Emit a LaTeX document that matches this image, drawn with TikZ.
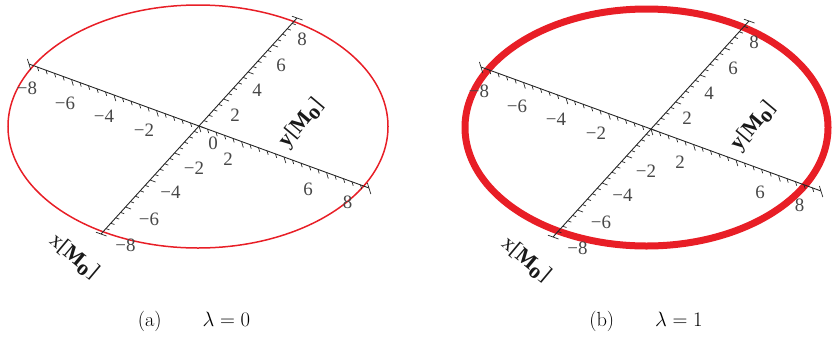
\documentclass[tikz,border=0pt]{standalone}
\usepackage{fontspec}
\newfontfamily\tms{Liberation Serif}
\usetikzlibrary{calc}
\definecolor{ellred}{RGB}{232,30,38}
\begin{document}
\begin{tikzpicture}[x=1bp,y=-1bp,
  axisline/.style={line width=0.9bp, draw=black!85},
  tickline/.style={line width=0.7bp, draw=black!85},
  ticklbl/.style={font=\tms\fontsize{19}{19}\selectfont, text=black!72, inner sep=0pt},
  axlbl/.style={font=\tms\fontsize{22}{22}\selectfont, text=black!90, inner sep=0pt},
  caption/.style={font=\fontsize{20.5}{20.5}\selectfont, inner sep=0pt}]
\useasboundingbox (0,0) rectangle (832,337);
\newcommand\mylabx{x[\textbf{M}\raisebox{-4bp}{\textbf{o}}]}
\newcommand\myaby{\textbf{y}[\textbf{M}\raisebox{-4bp}{\textbf{o}}]}
\newcommand\drawpanel[3]{%
 \begin{scope}[shift={(#1,#2)}]
  % axis A (descending)
  \coordinate (a0) at (-170,-62);
  \coordinate (a1) at (170,62);
  \draw[axisline] (a0) -- (a1);
  \foreach \i in {-19,...,19} {
    \pgfmathtruncatemacro\m{mod(abs(\i),5)}
    \ifnum\m=0
      \draw[tickline] (\i*8.5,\i*3.1) -- ++(1.8,6);
    \else
      \draw[tickline] (\i*8.5,\i*3.1) -- ++(1.2,4);
    \fi
  }
  \draw[tickline] ($(a0)+(-1.6,-5)$) -- ($(a0)+(1.8,6)$);
  \draw[tickline] ($(a1)+(-1.6,-5)$) -- ($(a1)+(1.8,6)$);
  % axis B (ascending)
  \coordinate (b0) at (-98,108);
  \coordinate (b1) at (98,-108);
  \draw[axisline] (b0) -- (b1);
  \foreach \i in {-19,...,19} {
    \pgfmathtruncatemacro\m{mod(abs(\i),5)}
    \ifnum\m=0
      \draw[tickline] (\i*4.9,-\i*5.4) -- ++(5.5,2);
    \else
      \draw[tickline] (\i*4.9,-\i*5.4) -- ++(3.6,1.3);
    \fi
  }
  \draw[tickline] ($(b0)+(-5,-1.8)$) -- ($(b0)+(5.5,2)$);
  \draw[tickline] ($(b1)+(-5,-1.8)$) -- ($(b1)+(5.5,2)$);
  % tick labels axis A
  \node[ticklbl] at (-172,-38) {−8};
  \node[ticklbl] at (-134,-23) {−6};
  \node[ticklbl] at (-95,-10) {−4};
  \node[ticklbl] at (-55,4.5) {−2};
  \node[ticklbl] at (29,33) {2};
  \node[ticklbl] at (109,63.5) {6};
  \node[ticklbl] at (148.5,76.5) {8};
  % tick labels axis B
  \node[ticklbl] at (36,-11) {2};
  \node[ticklbl] at (58,-36) {4};
  \node[ticklbl] at (82,-61) {6};
  \node[ticklbl] at (103,-86.5) {8};
  \node[ticklbl] at (-5,42) {−2};
  \node[ticklbl] at (-28.5,66.5) {−4};
  \node[ticklbl] at (-50,93.5) {−6};
  \node[ticklbl] at (-73.5,119.5) {−8};
  #3
  % axis labels
  \node[axlbl, rotate=50] at (103,-3) {\myaby};
  \node[axlbl, rotate=-40] at (-125,131) {\mylabx};
 \end{scope}}
% ellipses first, axes drawn over them
\draw[ellred, line width=1.5bp] (198,126.5) ellipse [x radius=190, y radius=121.5];
\draw[ellred, line width=7bp] (646.5,127.5) ellipse [x radius=181.5, y radius=118.5];
% panel (a)
\drawpanel{199}{126}{\node[ticklbl] at (14,17) {0};}
% panel (b)
\drawpanel{651}{129}{}
% captions
\node[caption] (capa) at (194,321) {(a)\qquad$\lambda=0$};
\node[caption] (capb) at (646,321) {(b)\qquad$\lambda=1$};
\end{tikzpicture}
\end{document}
